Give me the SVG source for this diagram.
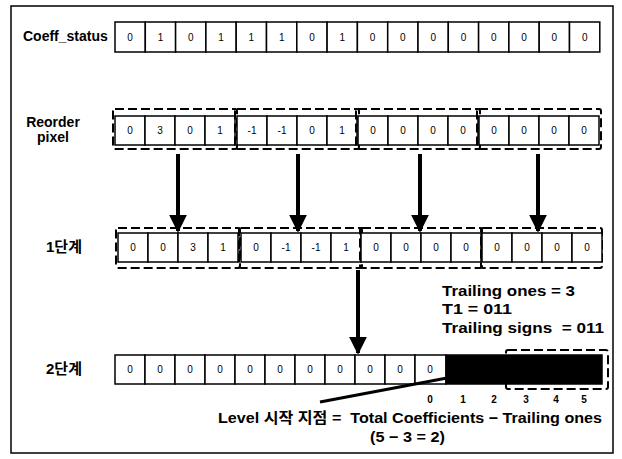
<svg xmlns="http://www.w3.org/2000/svg" width="622" height="459" viewBox="0 0 622 459">
<defs>
<style>
.frame{fill:#fff;stroke:#000;stroke-width:1.5}
.c{fill:#fff;stroke:#000;stroke-width:1.5}
.v{font-family:"Liberation Sans",Arial,sans-serif;font-size:10px;fill:#000;text-anchor:middle;dominant-baseline:central}
.lbl{font-family:"Liberation Sans","Noto Sans CJK KR",sans-serif;font-size:14px;font-weight:bold;fill:#000}
.big{font-family:"Liberation Sans","Noto Sans CJK KR",sans-serif;font-size:15px;font-weight:bold;fill:#000}
.kr{font-family:"Liberation Sans","Noto Sans CJK KR",sans-serif;font-size:15px;font-weight:bold;fill:#000}
.dash{fill:none;stroke:#000;stroke-width:2;stroke-dasharray:9,4}
.arr{stroke:#000;stroke-width:4;fill:none}
.idx{font-family:"Liberation Sans",Arial,sans-serif;font-size:10px;font-weight:bold;fill:#000;text-anchor:middle}
</style>
<marker id="ah" viewBox="0 0 10 10" refX="9" refY="5" markerWidth="4.5" markerHeight="4.5" orient="auto" markerUnits="strokeWidth">
<path d="M0,0 L10,5 L0,10 Z" fill="#000"/>
</marker>
</defs>
<rect width="622" height="459" fill="#fff"/>
<rect class="frame" x="11" y="6" width="602" height="447"/>

<g id="coeff_status">
<text class="lbl" x="23" y="41">Coeff_status</text>
<rect class="c" x="115" y="22" width="30.3" height="30"/><text class="v" x="130" y="37">0</text>
<rect class="c" x="145.3" y="22" width="30.3" height="30"/><text class="v" x="160.5" y="37">1</text>
<rect class="c" x="175.6" y="22" width="30.3" height="30"/><text class="v" x="190.8" y="37">0</text>
<rect class="c" x="205.9" y="22" width="30.3" height="30"/><text class="v" x="221" y="37">1</text>
<rect class="c" x="236.2" y="22" width="30.3" height="30"/><text class="v" x="251.4" y="37">1</text>
<rect class="c" x="266.5" y="22" width="30.3" height="30"/><text class="v" x="281.7" y="37">1</text>
<rect class="c" x="296.8" y="22" width="30.3" height="30"/><text class="v" x="312" y="37">0</text>
<rect class="c" x="327.1" y="22" width="30.3" height="30"/><text class="v" x="342.3" y="37">1</text>
<rect class="c" x="357.4" y="22" width="30.3" height="30"/><text class="v" x="372.6" y="37">0</text>
<rect class="c" x="387.7" y="22" width="30.3" height="30"/><text class="v" x="402.9" y="37">0</text>
<rect class="c" x="418" y="22" width="30.3" height="30"/><text class="v" x="433.2" y="37">0</text>
<rect class="c" x="448.3" y="22" width="30.3" height="30"/><text class="v" x="463.5" y="37">0</text>
<rect class="c" x="478.6" y="22" width="30.3" height="30"/><text class="v" x="493.8" y="37">0</text>
<rect class="c" x="508.9" y="22" width="30.3" height="30"/><text class="v" x="524.1" y="37">0</text>
<rect class="c" x="539.2" y="22" width="30.3" height="30"/><text class="v" x="554.4" y="37">0</text>
<rect class="c" x="569.5" y="22" width="30.3" height="30"/><text class="v" x="584.7" y="37">0</text>
</g>

<g id="reorder_pixel">
<text class="lbl" x="53" y="127" text-anchor="middle">Reorder</text>
<text class="lbl" x="53" y="142" text-anchor="middle">pixel</text>
<g id="reorder_g1">
<rect class="dash" x="113" y="109" width="124" height="40" rx="2"/>
<rect class="c" x="115" y="116" width="30" height="29"/><text class="v" x="130" y="130.5">0</text>
<rect class="c" x="145" y="116" width="30" height="29"/><text class="v" x="160" y="130.5">3</text>
<rect class="c" x="175" y="116" width="30" height="29"/><text class="v" x="190" y="130.5">0</text>
<rect class="c" x="205" y="116" width="30" height="29"/><text class="v" x="220" y="130.5">1</text>
</g>
<g id="reorder_g2">
<rect class="dash" x="235" y="109" width="124" height="40" rx="2"/>
<rect class="c" x="237" y="116" width="30" height="29"/><text class="v" x="252" y="130.5">-1</text>
<rect class="c" x="267" y="116" width="30" height="29"/><text class="v" x="282" y="130.5">-1</text>
<rect class="c" x="297" y="116" width="30" height="29"/><text class="v" x="312" y="130.5">0</text>
<rect class="c" x="327" y="116" width="30" height="29"/><text class="v" x="342" y="130.5">1</text>
</g>
<g id="reorder_g3">
<rect class="dash" x="356" y="109" width="124" height="40" rx="2"/>
<rect class="c" x="358" y="116" width="30" height="29"/><text class="v" x="373" y="130.5">0</text>
<rect class="c" x="388" y="116" width="30" height="29"/><text class="v" x="403" y="130.5">0</text>
<rect class="c" x="418" y="116" width="30" height="29"/><text class="v" x="433" y="130.5">0</text>
<rect class="c" x="448" y="116" width="30" height="29"/><text class="v" x="463" y="130.5">0</text>
</g>
<g id="reorder_g4">
<rect class="dash" x="477" y="109" width="124" height="40" rx="2"/>
<rect class="c" x="479" y="116" width="30" height="29"/><text class="v" x="494" y="130.5">0</text>
<rect class="c" x="509" y="116" width="30" height="29"/><text class="v" x="524" y="130.5">0</text>
<rect class="c" x="539" y="116" width="30" height="29"/><text class="v" x="554" y="130.5">0</text>
<rect class="c" x="569" y="116" width="30" height="29"/><text class="v" x="584" y="130.5">0</text>
</g>
</g>

<g id="step1">
<text class="kr" x="64" y="252" text-anchor="middle">1단계</text>
<g id="step1_g1">
<rect class="dash" x="116" y="228" width="124" height="40" rx="2"/>
<rect class="c" x="118" y="233" width="30" height="29"/><text class="v" x="133" y="247.5">0</text>
<rect class="c" x="148" y="233" width="30" height="29"/><text class="v" x="163" y="247.5">0</text>
<rect class="c" x="178" y="233" width="30" height="29"/><text class="v" x="193" y="247.5">3</text>
<rect class="c" x="208" y="233" width="30" height="29"/><text class="v" x="223" y="247.5">1</text>
</g>
<g id="step1_g2">
<rect class="dash" x="239" y="228" width="123" height="40" rx="2"/>
<rect class="c" x="241" y="233" width="30" height="29"/><text class="v" x="256" y="247.5">0</text>
<rect class="c" x="271" y="233" width="30" height="29"/><text class="v" x="286" y="247.5">-1</text>
<rect class="c" x="301" y="233" width="30" height="29"/><text class="v" x="316" y="247.5">-1</text>
<rect class="c" x="331" y="233" width="30" height="29"/><text class="v" x="346" y="247.5">1</text>
</g>
<g id="step1_g3">
<rect class="dash" x="360" y="228" width="122" height="40" rx="2"/>
<rect class="c" x="361" y="233" width="30" height="29"/><text class="v" x="376" y="247.5">0</text>
<rect class="c" x="391" y="233" width="30" height="29"/><text class="v" x="406" y="247.5">0</text>
<rect class="c" x="421" y="233" width="30" height="29"/><text class="v" x="436" y="247.5">0</text>
<rect class="c" x="451" y="233" width="30" height="29"/><text class="v" x="466" y="247.5">0</text>
</g>
<g id="step1_g4">
<rect class="dash" x="481" y="228" width="121" height="40" rx="2"/>
<rect class="c" x="482" y="233" width="30" height="29"/><text class="v" x="497" y="247.5">0</text>
<rect class="c" x="512" y="233" width="30" height="29"/><text class="v" x="527" y="247.5">0</text>
<rect class="c" x="542" y="233" width="30" height="29"/><text class="v" x="557" y="247.5">0</text>
<rect class="c" x="572" y="233" width="30" height="29"/><text class="v" x="587" y="247.5">0</text>
</g>
</g>

<g id="trailing_info">
<text class="big" x="442" y="296" textLength="133" lengthAdjust="spacingAndGlyphs">Trailing ones = 3</text>
<text class="big" x="442" y="314" textLength="70" lengthAdjust="spacingAndGlyphs">T1 = 011</text>
<text class="big" x="442" y="333" textLength="162" lengthAdjust="spacingAndGlyphs">Trailing signs &#160;= 011</text>
</g>

<g id="step2">
<text class="kr" x="64" y="374" text-anchor="middle">2단계</text>
<rect class="c" x="115" y="355" width="30" height="29"/><text class="v" x="130" y="369.5">0</text>
<rect class="c" x="145" y="355" width="30" height="29"/><text class="v" x="160" y="369.5">0</text>
<rect class="c" x="175" y="355" width="30" height="29"/><text class="v" x="190" y="369.5">0</text>
<rect class="c" x="205" y="355" width="30" height="29"/><text class="v" x="220" y="369.5">0</text>
<rect class="c" x="235" y="355" width="30" height="29"/><text class="v" x="250" y="369.5">0</text>
<rect class="c" x="265" y="355" width="30" height="29"/><text class="v" x="280" y="369.5">0</text>
<rect class="c" x="295" y="355" width="30" height="29"/><text class="v" x="310" y="369.5">0</text>
<rect class="c" x="325" y="355" width="30" height="29"/><text class="v" x="340" y="369.5">0</text>
<rect class="c" x="355" y="355" width="30" height="29"/><text class="v" x="370" y="369.5">0</text>
<rect class="c" x="385" y="355" width="30" height="29"/><text class="v" x="400" y="369.5">0</text>
<rect class="c" x="415" y="355" width="31" height="29"/><text class="v" x="430" y="369.5">0</text>
<rect x="446" y="355" width="156" height="29" fill="#000" stroke="#000" stroke-width="1.5"/>
<rect class="dash" x="506" y="350" width="102" height="39" rx="2"/>
<text class="idx" x="430" y="403">0</text>
<text class="idx" x="463" y="403">1</text>
<text class="idx" x="494" y="403">2</text>
<text class="idx" x="526" y="403">3</text>
<text class="idx" x="556" y="403">4</text>
<text class="idx" x="584" y="403">5</text>
</g>

<g id="level_note">
<text class="kr" x="218" y="423" textLength="384" lengthAdjust="spacingAndGlyphs">Level 시작 지점 = &#160;Total Coefficients − Trailing ones</text>
<text class="big" x="370" y="442" textLength="75" lengthAdjust="spacingAndGlyphs">(5 − 3 = 2)</text>
</g>

<g id="connectors">
<line class="arr" x1="178" y1="154" x2="178" y2="231" marker-end="url(#ah)"/>
<line class="arr" x1="298" y1="154" x2="298" y2="231" marker-end="url(#ah)"/>
<line class="arr" x1="420" y1="154" x2="420" y2="231" marker-end="url(#ah)"/>
<line class="arr" x1="538" y1="154" x2="538" y2="231" marker-end="url(#ah)"/>
<line class="arr" x1="358" y1="270" x2="358" y2="353" marker-end="url(#ah)"/>
<line x1="447" y1="378" x2="320" y2="402" stroke="#000" stroke-width="3"/>
</g>
</svg>
